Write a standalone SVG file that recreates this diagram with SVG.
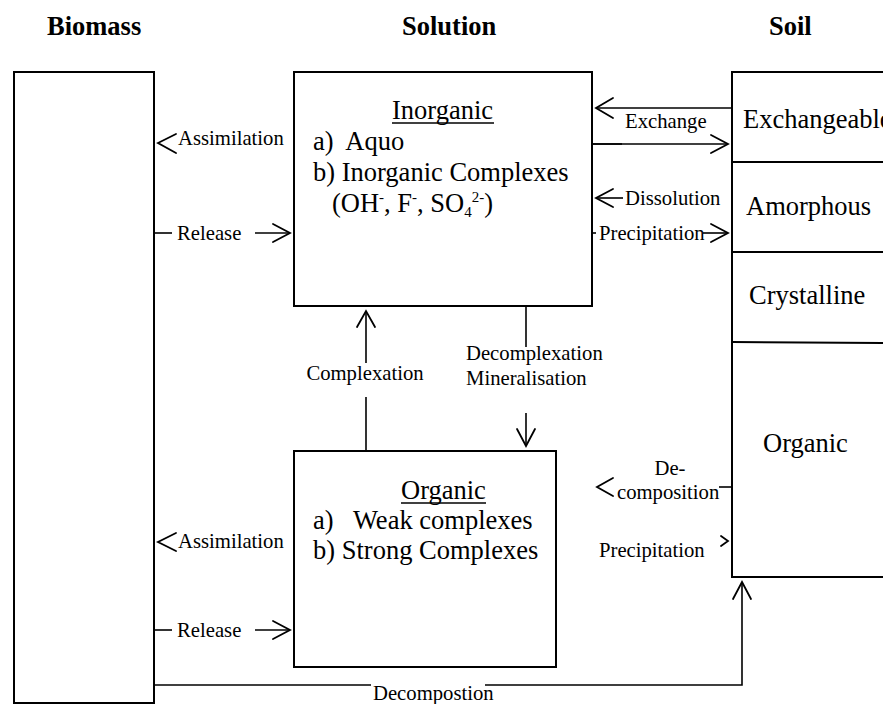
<svg xmlns="http://www.w3.org/2000/svg" width="883" height="704" viewBox="0 0 883 704">
<style>
  text { font-family: "Liberation Serif", "Times New Roman", serif; fill: #000; }
  .hdr { font-size: 26.5px; font-weight: bold; }
  .box { font-size: 26.5px; }
  .lbl { font-size: 20.7px; }
  .sup { font-size: 15px; }
  .frame { fill: #fff; stroke: #000; stroke-width: 2; }
  .div { stroke: #000; stroke-width: 2; fill: none; }
  .ln { stroke: #000; stroke-width: 1.6; fill: none; }
  .hd { stroke: #000; stroke-width: 1.8; fill: none; stroke-linecap: round; stroke-linejoin: miter; }
</style>
<rect width="883" height="704" fill="#fff"/>

<g id="headers">
  <text class="hdr" x="47" y="35">Biomass</text>
  <text class="hdr" x="402" y="35">Solution</text>
  <text class="hdr" x="769" y="35">Soil</text>
</g>

<g id="biomass">
  <rect class="frame" x="14" y="72" width="140" height="631"/>
</g>

<g id="inorganic">
  <rect class="frame" x="294" y="72" width="298" height="234"/>
  <text class="box" x="392" y="119">Inorganic</text>
  <line class="ln" x1="392" y1="123" x2="494" y2="123" stroke-width="1.4"/>
  <text class="box" x="313" y="150" xml:space="preserve">a)  Aquo</text>
  <text class="box" x="313" y="181">b) Inorganic Complexes</text>
  <text class="box" x="332" y="212">(OH<tspan class="sup" dy="-10">-</tspan><tspan dy="10">, F</tspan><tspan class="sup" dy="-10">-</tspan><tspan dy="10">, SO</tspan><tspan class="sup" dy="5">4</tspan><tspan class="sup" dy="-15">2-</tspan><tspan dy="10">)</tspan></text>
</g>

<g id="organic-solution">
  <rect class="frame" x="294" y="451" width="262" height="216"/>
  <text class="box" x="401" y="499">Organic</text>
  <line class="ln" x1="401" y1="503" x2="486" y2="503" stroke-width="1.4"/>
  <text class="box" x="313" y="529" xml:space="preserve">a)   Weak complexes</text>
  <text class="box" x="313" y="559">b) Strong Complexes</text>
</g>

<g id="soil">
  <rect class="frame" x="732" y="72" width="170" height="505"/>
  <line class="div" x1="732" y1="162" x2="890" y2="162"/>
  <line class="div" x1="732" y1="252" x2="890" y2="252"/>
  <line class="div" x1="732" y1="342" x2="890" y2="343"/>
  <text class="box" x="743" y="128">Exchangeable</text>
  <text class="box" x="746" y="215">Amorphous</text>
  <text class="box" x="749" y="304">Crystalline</text>
  <text class="box" x="763" y="452">Organic</text>
</g>

<g id="connectors">
  <!-- Assimilation (top) -->
  <polyline class="hd" points="176,134 158,143 176,153"/>
  <text class="lbl" x="178" y="145">Assimilation</text>
  <!-- Release (top) -->
  <line class="ln" x1="154" y1="233" x2="172" y2="233"/>
  <text class="lbl" x="177" y="240">Release</text>
  <line class="ln" x1="255" y1="233" x2="289" y2="233"/>
  <polyline class="hd" points="273,224 290,233 273,242"/>
  <!-- Exchange -->
  <line class="ln" x1="732" y1="108" x2="597" y2="108"/>
  <polyline class="hd" points="613,98 596,108 613,118"/>
  <text class="lbl" x="625" y="128">Exchange</text>
  <line class="ln" x1="592" y1="144" x2="727" y2="144"/>
  <line class="ln" x1="592" y1="144" x2="622" y2="144" stroke-width="2.2"/>
  <polyline class="hd" points="711,135 728,144 711,153"/>
  <!-- Dissolution -->
  <line class="ln" x1="597" y1="198" x2="623" y2="198"/>
  <polyline class="hd" points="613,189 596,198 613,207"/>
  <text class="lbl" x="625" y="205">Dissolution</text>
  <!-- Precipitation (top) -->
  <line class="ln" x1="592" y1="233" x2="596" y2="233"/>
  <text class="lbl" x="599" y="240">Precipitation</text>
  <line class="ln" x1="703" y1="233" x2="727" y2="233"/>
  <polyline class="hd" points="711,224 728,233 711,242"/>
  <!-- Complexation -->
  <line class="ln" x1="366" y1="451" x2="366" y2="397"/>
  <line class="ln" x1="366" y1="363" x2="366" y2="312"/>
  <polyline class="hd" points="357,327 366,311 375,327"/>
  <text class="lbl" x="365" y="380" text-anchor="middle">Complexation</text>
  <!-- Decomplexation / Mineralisation -->
  <line class="ln" x1="526" y1="306" x2="526" y2="347"/>
  <text class="lbl" x="466" y="360">Decomplexation</text>
  <text class="lbl" x="466" y="385">Mineralisation</text>
  <line class="ln" x1="526" y1="413" x2="526" y2="445"/>
  <polyline class="hd" points="517,429 526,446 535,429"/>
  <!-- De-composition -->
  <line class="ln" x1="732" y1="487" x2="719" y2="487"/>
  <polyline class="hd" points="613,478 597,487 613,496"/>
  <text class="lbl" x="670" y="475" text-anchor="middle">De-</text>
  <text class="lbl" x="617" y="499">composition</text>
  <!-- Precipitation (bottom) -->
  <text class="lbl" x="599" y="557">Precipitation</text>
  <polyline class="hd" points="721,536 728,541 721,546"/>
  <!-- Assimilation (bottom) -->
  <polyline class="hd" points="176,533 158,542 176,551"/>
  <text class="lbl" x="178" y="548">Assimilation</text>
  <!-- Release (bottom) -->
  <line class="ln" x1="154" y1="630" x2="172" y2="630"/>
  <text class="lbl" x="177" y="637">Release</text>
  <line class="ln" x1="255" y1="630" x2="289" y2="630"/>
  <polyline class="hd" points="273,621 290,630 273,639"/>
  <!-- Decompostion -->
  <polyline class="ln" points="154,685 371,685"/>
  <polyline class="ln" points="485,685 742,685 742,583"/>
  <polyline class="hd" points="733,599 742,582 751,599"/>
  <text class="lbl" x="373" y="700">Decompostion</text>
</g>
</svg>
